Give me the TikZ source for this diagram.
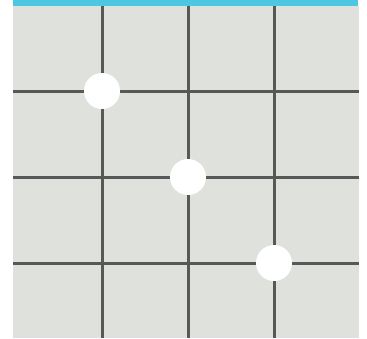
\documentclass[tikz,border=0pt]{standalone}
\usepackage{xcolor}
\usepackage{tikz}
\definecolor{boardgray}{HTML}{DFE1DD}
\definecolor{linegray}{HTML}{585858}
\definecolor{topcyan}{HTML}{4DC6DF}
\tikzset{
  gridline/.style={draw=linegray, line width=3pt},
  stone/.style={circle, fill=white, minimum size=36pt, inner sep=0pt}
}
\begin{document}
\begin{tikzpicture}[x=1pt, y=-1pt]
\useasboundingbox (0,0) rectangle (367,338);
\fill[boardgray] (13,6) rectangle (359,338);
\fill[topcyan] (13,0) rectangle (358,6);
\foreach \p in {102,188,274} {
  \draw[gridline] (\p,6) -- (\p,338);
}
\foreach \q in {91,177,263} {
  \draw[gridline] (13,\q) -- (359,\q);
}
\node[stone] (s1) at (102,91) {};
\node[stone] (s2) at (188,177) {};
\node[stone] (s3) at (274,263) {};
\end{tikzpicture}
\end{document}
